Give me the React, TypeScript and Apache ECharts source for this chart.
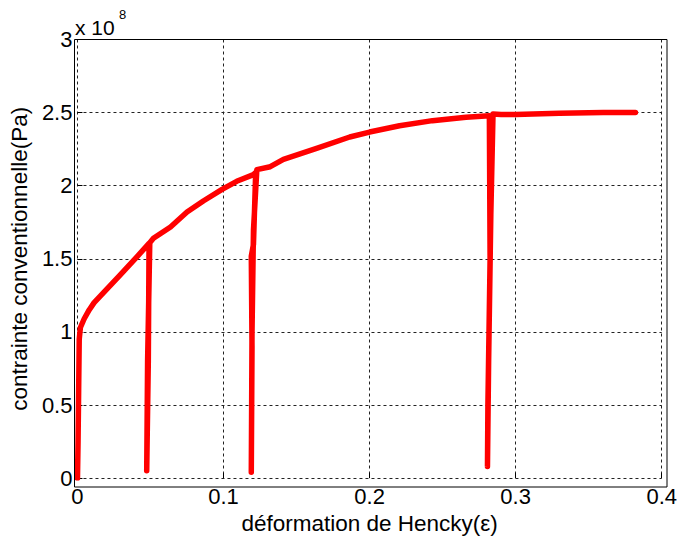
import React, { useEffect, useRef } from "react";
import * as echarts from "echarts";

// Hencky strain (ε) along the loading / unloading path
const strain = [
  0, 0.0004, 0.0008, 0.0012, 0.002, 0.0046, 0.008, 0.0114, 0.018, 0.0296, 0.041, 0.049,
  0.0485, 0.0474,
  0.048, 0.0495, 0.052, 0.0637, 0.075, 0.0864, 0.099, 0.109, 0.1205, 0.122,
  0.1205, 0.119, 0.1195, 0.119,
  0.1195, 0.1205, 0.1228, 0.132, 0.141, 0.1637, 0.1864, 0.2, 0.2205, 0.243, 0.266, 0.282,
  0.2825, 0.281, 0.2807,
  0.2815, 0.283, 0.2845, 0.29, 0.3, 0.33, 0.36, 0.382,
];
// Conventional stress (Pa)
const stress = [
  0, 0.25e8, 0.6e8, 0.95e8, 1.03e8, 1.09e8, 1.15e8, 1.2e8, 1.27e8, 1.394e8, 1.517e8, 1.606e8,
  0.8e8, 0.05e8,
  0.8e8, 1.61e8, 1.64e8, 1.718e8, 1.82e8, 1.897e8, 1.975e8, 2.03e8, 2.076e8, 2.09e8,
  1.6e8, 1.517e8, 0.9e8, 0.04e8,
  1.0e8, 1.7e8, 2.11e8, 2.13e8, 2.18e8, 2.255e8, 2.333e8, 2.367e8, 2.41e8, 2.445e8, 2.468e8, 2.478e8,
  1.5e8, 0.5e8, 0.08e8,
  0.8e8, 1.8e8, 2.49e8, 2.487e8, 2.487e8, 2.495e8, 2.5e8, 2.5e8,
];

const xTicks = [0, 0.1, 0.2, 0.3, 0.4];
const yTicks = [0, 0.5e8, 1e8, 1.5e8, 2e8, 2.5e8, 3e8];

const FONT = "Liberation Sans, Arial, sans-serif";

export default function App() {
  const ref = useRef<HTMLDivElement>(null);
  useEffect(() => {
    if (!ref.current) return;
    const chart = echarts.init(ref.current, null, { renderer: "svg" });
    const GL = 76.6, GR = 663.3, GT = 39.5, GB = 486;
    const data = strain.map((x, i) => [x, stress[i]]);
    chart.setOption({
      animation: false,
      backgroundColor: "#ffffff",
      grid: { left: GL, right: 680 - GR, top: GT, bottom: 540 - GB, containLabel: false },
      xAxis: {
        type: "value",
        min: xTicks[0],
        max: xTicks[xTicks.length - 1],
        interval: 0.1,
        name: "déformation de Hencky(ε)",
        nameLocation: "middle",
        nameGap: 30,
        nameTextStyle: { fontFamily: FONT, fontSize: 22.5, color: "#000" },
        axisLine: { show: false },
        axisTick: { show: true, inside: true, length: 5, lineStyle: { color: "#000" } },
        axisLabel: {
          fontFamily: FONT, fontSize: 22, color: "#000", margin: 7,
          formatter: (v: number) => String(+v.toFixed(2)),
        },
        splitLine: { show: true, lineStyle: { color: "#222", width: 1, type: [3, 3] } },
      },
      yAxis: {
        type: "value",
        min: yTicks[0],
        max: yTicks[yTicks.length - 1],
        interval: 0.5e8,
        name: "contrainte conventionnelle(Pa)",
        nameLocation: "middle",
        nameGap: 34,
        nameTextStyle: { fontFamily: FONT, fontSize: 22.5, color: "#000" },
        axisLine: { show: false },
        axisTick: { show: true, inside: true, length: 5, lineStyle: { color: "#000" } },
        axisLabel: {
          fontFamily: FONT, fontSize: 22, color: "#000", margin: 5,
          formatter: (v: number) => String(+(v / 1e8).toFixed(2)),
        },
        splitLine: { show: true, lineStyle: { color: "#222", width: 1, type: [3, 3] } },
      },
      series: [
        {
          type: "line",
          data,
          showSymbol: false,
          symbol: "none",
          lineStyle: { color: "#ff0000", width: 5.5, cap: "round", join: "round" },
          z: 5,
        },
      ],
      graphic: [
        {
          type: "rect",
          shape: { x: 74.5, y: GT, width: 667 - 74.5, height: 487 - GT },
          style: { fill: "none", stroke: "#000", lineWidth: 1 },
          z: 10,
          silent: true,
        },
        {
          type: "text",
          x: 75,
          y: 27.6,
          style: { text: "x 10", font: `21px ${FONT}`, fill: "#000", verticalAlign: "middle", align: "left" },
        },
        {
          type: "text",
          x: 119,
          y: 14,
          style: { text: "8", font: `13px ${FONT}`, fill: "#000", verticalAlign: "middle", align: "left" },
        },
      ],
    });
    return () => chart.dispose();
  }, []);
  return <div ref={ref} style={{ width: 680, height: 540, position: "absolute", left: 0, top: 0 }} />;
}
